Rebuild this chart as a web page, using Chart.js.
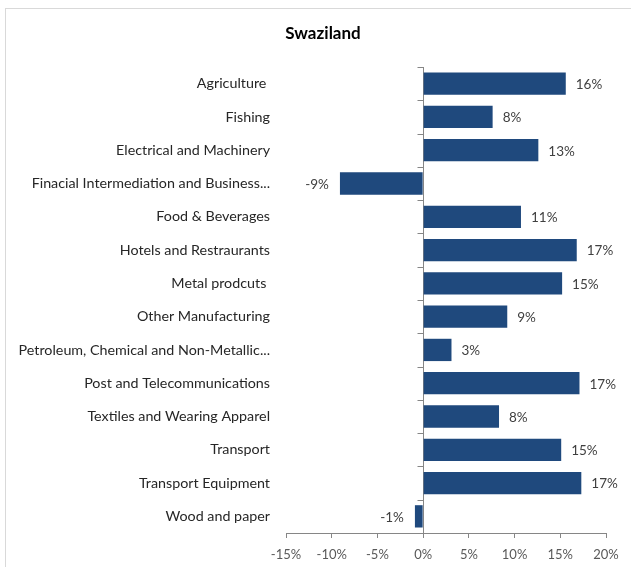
<!DOCTYPE html>
<html>
<head>
<meta charset="utf-8">
<script src="https://cdn.jsdelivr.net/npm/chart.js@4.4.1/dist/chart.umd.min.js"></script>
<style>
  html, body { margin: 0; padding: 0; background: #fff; overflow: hidden; }
  #frame { position: absolute; left: 5px; top: 8px; width: 700px; height: 700px; border: 1px solid #d9d9d9; }
  #wrap { position: absolute; left: 0; top: 0; width: 631px; height: 567px; }
</style>
</head>
<body>
<div id="frame"></div>
<div id="wrap"><canvas id="sectorChart" width="631" height="567"></canvas></div>
<script>
const sectorLabels = [
  'Agriculture ',
  'Fishing',
  'Electrical and Machinery',
  'Finacial Intermediation and Business...',
  'Food & Beverages',
  'Hotels and Restraurants',
  'Metal prodcuts ',
  'Other Manufacturing',
  'Petroleum, Chemical and Non-Metallic...',
  'Post and Telecommunications',
  'Textiles and Wearing Apparel',
  'Transport',
  'Transport Equipment',
  'Wood and paper'
];
// growth, in percent
const growthValues = [15.6, 7.6, 12.6, -9.1, 10.7, 16.8, 15.2, 9.2, 3.1, 17.1, 8.3, 15.1, 17.3, -0.9];
const xTicks = [-15, -10, -5, 0, 5, 10, 15, 20];
const chartTitle = 'Swaziland';

const barColor = '#1f497d';
const axisColor = '#868686';
const fontFamily = 'Lato, "Open Sans", sans-serif';

// title centred over the whole frame, not just the plot
const frameTitle = {
  id: 'frameTitle',
  afterDraw(chart) {
    const { ctx } = chart;
    ctx.save();
    ctx.font = 'bold 17px ' + fontFamily;
    ctx.fillStyle = '#000';
    ctx.textAlign = 'center';
    ctx.textBaseline = 'middle';
    ctx.fillText(chartTitle, 323, 34);
    ctx.restore();
  }
};

// small marks on the zero axis between categories
const categoryTicks = {
  id: 'categoryTicks',
  afterDraw(chart) {
    const { ctx, chartArea, scales } = chart;
    const x0 = Math.round(scales.x.getPixelForValue(0)) + 0.5;
    const n = sectorLabels.length;
    const step = (chartArea.bottom - chartArea.top) / n;
    ctx.save();
    ctx.strokeStyle = axisColor;
    ctx.lineWidth = 1;
    ctx.beginPath();
    for (let i = 0; i < n; i++) {
      const y = Math.round(chartArea.top + i * step) + 0.5;
      ctx.moveTo(x0 - 6, y);
      ctx.lineTo(x0, y);
    }
    ctx.stroke();
    ctx.restore();
  }
};

// value labels at the end of each bar
const valueLabels = {
  id: 'valueLabels',
  afterDatasetsDraw(chart) {
    const { ctx } = chart;
    const meta = chart.getDatasetMeta(0);
    ctx.save();
    ctx.font = '13.5px ' + fontFamily;
    ctx.fillStyle = '#404040';
    ctx.textBaseline = 'middle';
    meta.data.forEach((bar, i) => {
      const v = growthValues[i];
      const txt = Math.round(v) + '%';
      if (v >= 0) {
        ctx.textAlign = 'left';
        ctx.fillText(txt, bar.x + 10, bar.y + 1);
      } else {
        ctx.textAlign = 'right';
        ctx.fillText(txt, bar.x - 11, bar.y + 1);
      }
    });
    ctx.restore();
  }
};

new Chart(document.getElementById('sectorChart').getContext('2d'), {
  type: 'bar',
  data: {
    labels: sectorLabels,
    datasets: [{
      data: growthValues,
      backgroundColor: barColor,
      borderWidth: 0,
      barPercentage: 0.67,
      categoryPercentage: 1
    }]
  },
  options: {
    indexAxis: 'y',
    responsive: false,
    animation: false,
    layout: { padding: { left: 0, right: 25, top: 67, bottom: 0 } },
    plugins: {
      legend: { display: false },
      tooltip: { enabled: false },
      title: { display: false }
    },
    scales: {
      x: {
        min: -15,
        max: 20,
        afterBuildTicks(scale) { scale.ticks = xTicks.map(v => ({ value: v })); },
        afterFit(scale) { scale.height = 34; },
        ticks: {
          callback: v => v + '%',
          color: '#595959',
          font: { family: fontFamily, size: 13 },
          padding: 9,
          maxRotation: 0
        },
        grid: {
          color: c => (c.tick && c.tick.value === 0) ? axisColor : 'rgba(0,0,0,0)',
          tickColor: axisColor,
          tickLength: 5
        },
        border: { display: true, color: axisColor }
      },
      y: {
        afterFit(scale) { scale.width = 286; },
        ticks: {
          color: '#262626',
          font: { family: fontFamily, size: 14.3 },
          padding: 16
        },
        grid: { display: false, drawTicks: false },
        border: { display: false }
      }
    }
  },
  plugins: [frameTitle, categoryTicks, valueLabels]
});
</script>
</body>
</html>
